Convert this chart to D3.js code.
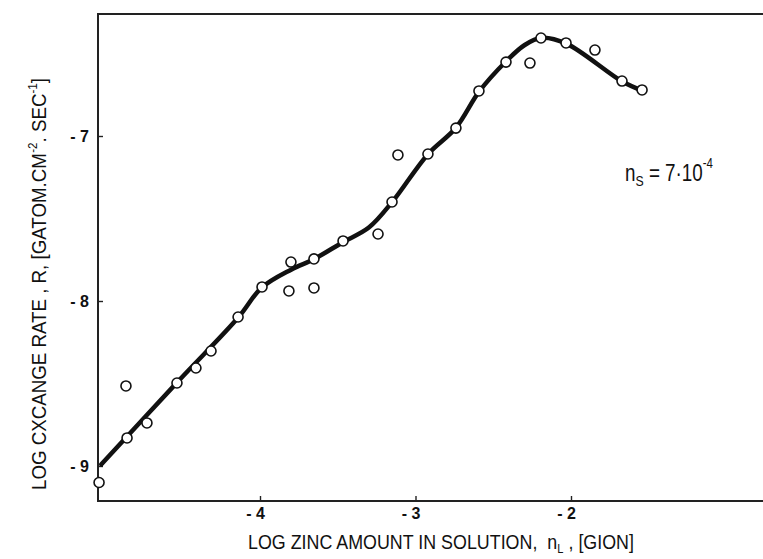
<!DOCTYPE html>
<html>
	<head>
		<title>Zinc exchange rate</title>
		<style>
			body, html { margin: 0; padding: 0; background: #fff; }
			svg text { font-family: 'Liberation Sans', Arial, sans-serif; fill: #111; white-space: pre; }
		</style>
	</head>
	<body>

		<svg id="svg" width="763" height="559"></svg>

		<script src="https://d3js.org/d3.v7.min.js"></script>
		<script>
			// measured points (log n_L, log R)
			const pointX = [-5.035, -4.862, -4.855, -4.727, -4.534, -4.412, -4.315, -4.141, -3.987, -3.814,
				-3.801, -3.653, -3.653, -3.466, -3.241, -3.151, -3.113, -2.920, -2.740, -2.592,
				-2.418, -2.264, -2.193, -2.032, -1.846, -1.672, -1.543]
			const pointY = [-9.10, -8.515, -8.83, -8.739, -8.497, -8.406, -8.303, -8.097, -7.915, -7.939,
				-7.764, -7.745, -7.921, -7.636, -7.594, -7.40, -7.115, -7.109, -6.952, -6.727,
				-6.552, -6.558, -6.406, -6.436, -6.479, -6.667, -6.721]

			// hand drawn curve through the points
			const fitX = [-5.02, -4.53, -4.14, -3.99, -3.80, -3.65, -3.47, -3.30, -3.15, -2.92, -2.74, -2.59, -2.42, -2.30, -2.19, -2.03, -1.67, -1.53]
			const fitY = [-8.99, -8.49, -8.10, -7.92, -7.81, -7.745, -7.645, -7.555, -7.40, -7.11, -6.95, -6.73, -6.55, -6.45, -6.405, -6.44, -6.67, -6.73]

			const xTicks = [-4, -3, -2]
			const yTicks = [-7, -8, -9]

			const frameLeft = 98, frameTop = 14, frameBottom = 501, frameRight = 763

			const x = d3.scaleLinear().domain([-4, -2]).range([260, 571])
			const y = d3.scaleLinear().domain([-7, -9]).range([136, 466])

			const svg = d3.select('#svg')

			// frame: left, top and bottom lines (no right side visible)
			svg.append('path')
				.attr('d', `M${frameRight},${frameTop}H${frameLeft}V${frameBottom}H${frameRight}`)
				.attr('fill', 'none')
				.attr('stroke', '#222')
				.attr('stroke-width', 2)

			const yAxis = svg.append('g')
				.attr('transform', `translate(${frameLeft},0)`)
				.call(d3.axisLeft(y).tickValues(yTicks).tickSize(-5).tickPadding(9)
					.tickFormat(d => '- ' + Math.abs(d)))
			yAxis.select('.domain').remove()

			const xAxis = svg.append('g')
				.attr('transform', `translate(0,${frameBottom})`)
				.call(d3.axisBottom(x).tickValues(xTicks).tickSize(-5).tickPadding(7)
					.tickFormat(d => '- ' + Math.abs(d)))
			xAxis.select('.domain').remove()

			svg.selectAll('.tick line').attr('stroke', '#222').attr('stroke-width', 1.4)
			for (const g of [xAxis, yAxis]) {
				g.attr('font-size', null).attr('font-family', null)
				g.selectAll('.tick text')
					.style('font-size', '16px')
					.style('font-weight', 'bold')
			}
			xAxis.selectAll('.tick text').attr('dx', -5)

			// fitted curve
			const line = d3.line()
				.x(d => x(d[0]))
				.y(d => y(d[1]))
				.curve(d3.curveCatmullRom)

			svg.append('path')
				.datum(fitX.map((v, i) => [v, fitY[i]]))
				.attr('d', line)
				.attr('fill', 'none')
				.attr('stroke', '#111')
				.attr('stroke-width', 4.5)
				.attr('stroke-linecap', 'round')

			svg.append('g')
				.selectAll('circle')
				.data(pointX.map((v, i) => [v, pointY[i]]))
				.enter()
				.append('circle')
				.attr('cx', d => x(d[0]))
				.attr('cy', d => y(d[1]))
				.attr('r', 5)
				.attr('fill', '#fff')
				.attr('stroke', '#111')
				.attr('stroke-width', 1.6)

			// lay text pieces one after another: [text, size, dy]
			function label(g, pieces) {
				let cx = 0
				pieces.forEach(([t, size, dy]) => {
					const el = g.append('text')
						.attr('x', cx)
						.attr('y', dy)
						.style('font-size', size + 'px')
						.text(t)
					cx += el.node().getComputedTextLength()
				})
				return cx
			}

			// x title, squeezed to a narrow lettering
			const xt = svg.append('g')
			const xw = label(xt, [
				['LOG ZINC AMOUNT IN SOLUTION,  n', 21, 0],
				['L', 13, 4],
				[' , [GION]', 21, 0]
			])
			xt.attr('transform', `translate(248,549) scale(${386 / xw},1)`)

			const yt = svg.append('g')
			const yw = label(yt, [
				['LOG CXCANGE RATE , R, [GATOM.CM', 21, 0],
				['-2', 13, -9],
				['. SEC', 21, 0],
				['-1', 13, -9],
				[']', 21, 0]
			])
			yt.attr('transform', `translate(46,490) rotate(-90) scale(${412 / yw},1)`)

			// annotation
			const ann = svg.append('g')
			const aw = label(ann, [
				['n', 23, 0],
				['S', 15, 5],
				[' = 7·10', 23, 0],
				['-4', 14, -13]
			])
			ann.attr('transform', `translate(625,181) scale(${88 / aw},1)`)
		</script>
	</body>
</html>
